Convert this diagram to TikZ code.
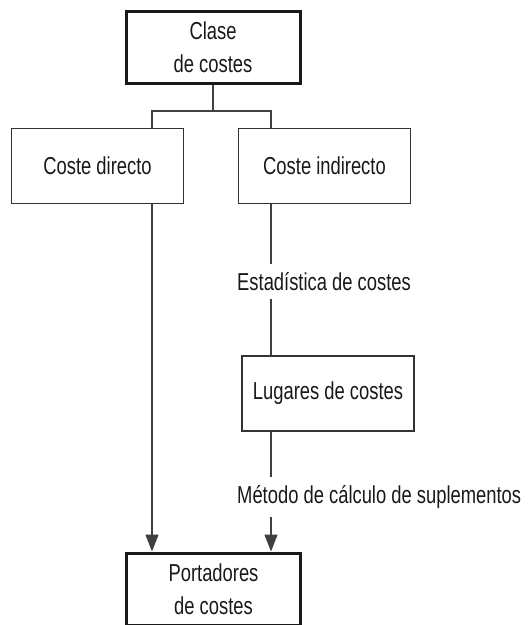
\documentclass[tikz,border=0pt]{standalone}
\usepackage{fontspec}
\setmainfont[FakeStretch=0.75]{Liberation Sans}
\usetikzlibrary{arrows.meta}

\begin{document}
\begin{tikzpicture}[x=1pt,y=-1pt,
    box/.style={draw=black!80,line width=1.4pt,minimum width=172pt,minimum height=75pt,
      align=center,inner sep=0pt,text=black!90,font=\fontsize{24.5}{33}\selectfont},
    mainbox/.style={box,draw=black!90,line width=3pt,minimum width=174pt,minimum height=72pt},
    lbl/.style={anchor=base west,inner xsep=0pt,inner ysep=8pt,text=black!90,
      font=\fontsize{24.5}{33}\selectfont},
    ln/.style={draw=black!75,line width=1.4pt},
    arr/.style={ln,-{Triangle[length=17pt,width=13pt]}}]
  \useasboundingbox (0,0) rectangle (528,625);
  % boxes
  \node[mainbox] (clase) at (213,47.5) {Clase\\de costes};
  \node[box] (directo) at (97.5,166) {Coste directo};
  \node[box] (indirecto) at (324.5,166) {Coste indirecto};
  \node[box] (lugares) at (328,393.5) {Lugares de costes};
  \node[mainbox] (portadores) at (213.5,589) {Portadores\\de costes};
  % labels on the right line
  \node[lbl] (estad) at (237,290.5) {Estadística de costes};
  \node[lbl] (metodo) at (237,503.5) {Método de cálculo de suplementos};
  \coordinate (split) at (213,111);
  \coordinate (lcol) at (152,0);
  \coordinate (rcol) at (271,0);
  \draw[ln] (clase.south) -- (split);
  \draw[ln] (directo.north -| lcol) |- (split) -| (indirecto.north -| rcol);
  \draw[arr] (directo.south -| lcol) -- (portadores.north -| lcol);
  \draw[ln] (indirecto.south -| rcol) -- (estad.north -| rcol);
  \draw[ln] (estad.south -| rcol) -- (lugares.north -| rcol);
  \draw[ln] (lugares.south -| rcol) -- (metodo.north -| rcol);
  \draw[arr] (metodo.south -| rcol) -- (portadores.north -| rcol);
\end{tikzpicture}
\end{document}
